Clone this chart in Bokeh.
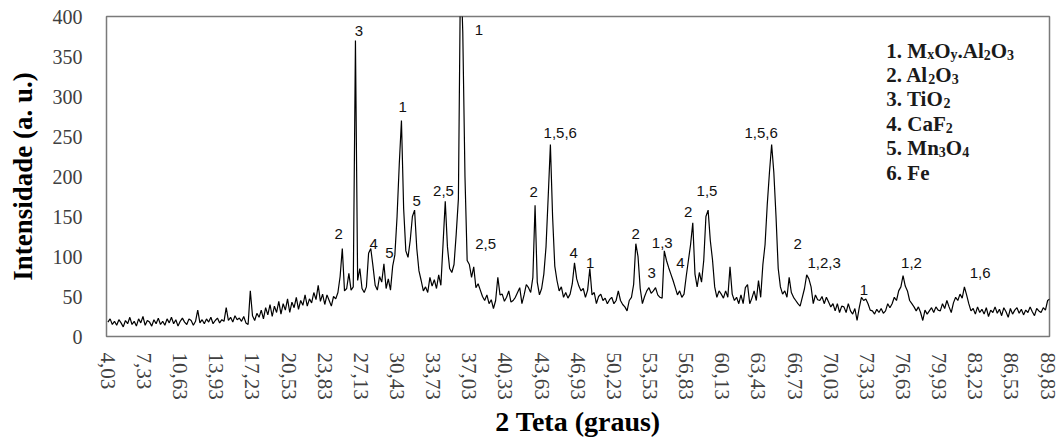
import numpy as np
from bokeh.plotting import figure
from bokeh.models import ColumnDataSource, FixedTicker, CustomJSTickFormatter, Range1d
from bokeh.core.properties import value
from bokeh.embed import file_html
from bokeh.resources import INLINE

# ---------------- data ----------------
start_2theta = 4.03
step_2theta = 0.2
intensity = [
    18, 22, 15, 19, 14,   21, 17, 12, 20, 16,   24, 15, 19, 13, 22,   17, 25, 14, 20, 18,   # 4-7
    13, 21, 16, 23, 15,   19, 14, 22, 17, 24,   16, 21, 13, 19, 23,   18, 15, 22, 20, 14,   # 8-11
    19, 33, 17, 21, 16,   22, 18, 24, 16, 20,   23, 17, 21, 19, 36,   20, 24, 18, 26, 21,   # 12-15
    23, 19, 25, 17, 15,   57, 26, 20, 29, 24,   33, 22, 36, 27, 40,   25, 38, 30, 44, 28,   # 16-19
    41, 33, 47, 30, 43,   36, 49, 34, 45, 39,   52, 38, 47, 42, 55,   46, 64, 44, 53, 40,   # 20-23
    52, 45, 38, 50, 47,   55, 75, 110, 57, 60,  79, 58, 62, 370, 70,  85, 60, 55, 62, 104,  # 24-27
    110, 88, 64, 58, 75,  68, 91, 60, 72, 58,   88, 102, 150, 215, 270, 160, 107, 99, 120, 150,  # 28-31
    158, 110, 82, 70, 57, 62, 55, 74, 63, 71,   60, 77, 64, 116, 169, 112, 85, 80, 90, 128,  # 32-35
    172, 470, 380, 200, 95, 90, 74, 87, 61, 66, 58, 50, 45, 52, 41,  46, 35, 45, 74, 52,   # 36-39
    53, 44, 49, 57, 43,   45, 49, 55, 61, 41,   52, 65, 61, 55, 74,   164, 68, 52, 60, 78,  # 40-43
    112, 175, 240, 150, 88, 70, 57, 62, 49, 55, 48, 53, 66, 92, 72,  63, 57, 60, 49, 58,   # 44-47
    85, 52, 55, 41, 50,   53, 45, 48, 41, 46,   49, 41, 45, 57, 45,   40, 37, 32, 45, 49,   # 48-51
    65, 116, 100, 60, 41, 50, 57, 61, 54, 57,   61, 52, 49, 48, 107,  95, 86, 78, 70, 61,   # 52-55
    52, 57, 49, 53, 75,   95, 115, 142, 78, 62, 80, 68, 95, 150, 158, 120, 96, 62, 49, 57,  # 56-59
    53, 48, 57, 49, 87,   53, 45, 49, 41, 52,   41, 61, 65, 41, 48,   57, 45, 70, 49, 90,   # 60-63
    115, 165, 205, 240, 205, 150, 85, 62, 53, 57, 49, 74, 55, 49, 45, 41, 38, 49, 60, 77,  # 64-67
    72, 62, 41, 52, 46,   45, 50, 41, 49, 43,   37, 41, 32, 41, 30,   38, 37, 30, 41, 32,   # 68-71
    28, 35, 20, 36, 49,   45, 47, 41, 33, 32,   28, 34, 30, 35, 29,   32, 41, 36, 41, 49,   # 72-75
    45, 57, 62, 76, 63,   57, 45, 41, 37, 32,   37, 30, 20, 33, 28,   32, 36, 30, 37, 33,   # 76-79
    32, 41, 35, 45, 37,   30, 42, 49, 45, 53,   48, 62, 52, 41, 32,   35, 28, 37, 30, 34,   # 80-83
    28, 36, 25, 33, 30,   37, 29, 34, 26, 36,   31, 24, 35, 28, 33,   36, 29, 34, 27, 33,   # 84-87
    30, 37, 31, 26, 35,   32, 30, 36, 33, 45,   47,                                         # 88-90
]
two_theta = [round(start_2theta + step_2theta * i, 2) for i in range(len(intensity))]

x_tick_values = [4.03, 7.33, 10.63, 13.93, 17.23, 20.53, 23.83, 27.13, 30.43, 33.73, 37.03,
                 40.33, 43.63, 46.93, 50.23, 53.53, 56.83, 60.13, 63.43, 66.73, 70.03, 73.33,
                 76.63, 79.93, 83.23, 86.53, 89.83]
x_tick_labels = ["4,03", "7,33", "10,63", "13,93", "17,23", "20,53", "23,83", "27,13", "30,43",
                 "33,73", "37,03", "40,33", "43,63", "46,93", "50,23", "53,53", "56,83", "60,13",
                 "63,43", "66,73", "70,03", "73,33", "76,63", "79,93", "83,23", "86,53", "89,83"]
y_tick_values = [0, 50, 100, 150, 200, 250, 300, 350, 400]

peak_labels = ["2", "3", "4", "5", "1", "5", "2,5", "1", "2,5", "2", "1,5,6", "4", "1", "2", "3",
               "1,3", "4", "2", "1,5", "1,5,6", "2", "1,2,3", "1", "1,2", "1,6"]
peak_label_x = [25.09, 26.94, 28.3, 29.73, 30.94, 32.21, 34.67, 37.91, 38.51, 42.91, 45.33, 46.55,
                48.06, 52.21, 53.67, 54.64, 56.3, 57.0, 58.73, 63.67, 67.0, 69.42, 73.06, 77.4, 83.67]
peak_label_y = [128, 382, 116, 105, 287, 170, 182, 383, 116, 181, 255, 105, 92, 128, 80, 117, 92,
                156, 182, 255, 116, 92, 58, 92, 80]

# legend rows: (text, is_subscript)
legend_rows = [
    [("1. M", False), ("x", True), ("O", False), ("y", True), (".Al", False), ("2", True), ("O", False), ("3", True)],
    [("2. Al", False), ("2", True), ("O", False), ("3", True)],
    [("3. TiO", False), ("2", True)],
    [("4. CaF", False), ("2", True)],
    [("5. Mn", False), ("3", True), ("O", False), ("4", True)],
    [("6. Fe", False)],
]

# ---------------- figure ----------------
p = figure(width=1061, height=441, output_backend="svg", toolbar_location=None,
           x_range=Range1d(3.9, 90.0), y_range=Range1d(0, 400),
           min_border_left=106, min_border_right=12, min_border_top=16, min_border_bottom=105)
p.background_fill_color = "white"
p.border_fill_color = "white"
p.xgrid.visible = False
p.ygrid.visible = False
p.outline_line_color = "#7a7a7a"
p.outline_line_width = 1.5

p.line(two_theta, intensity, line_color="black", line_width=1.2)

# axes
for ax in (p.xaxis[0], p.yaxis[0]):
    ax.axis_line_color = None
    ax.major_tick_line_color = None
    ax.minor_tick_line_color = None
    ax.major_label_text_font = "Liberation Serif"
    ax.major_label_text_color = "#404040"
    ax.axis_label_text_font = "Liberation Serif"
    ax.axis_label_text_font_style = "bold"
    ax.axis_label_text_color = "black"

p.xaxis.ticker = FixedTicker(ticks=x_tick_values)
p.xaxis.formatter = CustomJSTickFormatter(
    args=dict(vals=x_tick_values, labs=x_tick_labels),
    code="""
    let best = 0;
    for (let i = 0; i < vals.length; i++) {
        if (Math.abs(vals[i] - tick) < Math.abs(vals[best] - tick)) best = i;
    }
    return labs[best];
    """)
p.xaxis.major_label_orientation = "vertical"
p.xaxis.major_label_text_font_size = "21px"
p.xaxis.major_label_standoff = 10
p.xaxis.axis_label = "2 Teta (graus)"
p.xaxis.axis_label_text_font_size = "28px"
p.xaxis.axis_label_standoff = 3

p.yaxis.ticker = FixedTicker(ticks=y_tick_values)
p.yaxis.major_label_text_font_size = "20px"
p.yaxis.major_label_standoff = 18
p.yaxis.axis_label = "Intensidade (a. u.)"
p.yaxis.axis_label_text_font_size = "27px"
p.yaxis.axis_label_standoff = 12

# peak annotations
p.text(x=peak_label_x, y=peak_label_y, text=peak_labels,
       text_font=value("Liberation Sans"), text_font_size="15px",
       text_align="center", text_baseline="middle", text_color="#111111")

# legend built from pieces (main text + subscripts)
times_bold = {'1': 500, '2': 500, '3': 500, '4': 500, '5': 500, '6': 500, '.': 250, ' ': 250,
              'M': 944, 'x': 500, 'O': 778, 'y': 500, 'A': 722, 'l': 278, 'T': 667, 'i': 278,
              'C': 722, 'a': 500, 'F': 611, 'n': 556, 'e': 444}
main_size = 21
sub_size = 14
legend_left_x = 75.1
row_first_offset = 34
row_gap = 24.4

main_parts = dict(x=[], y=[], text=[], xo=[], yo=[])
sub_parts = dict(x=[], y=[], text=[], xo=[], yo=[])
for r, row in enumerate(legend_rows):
    xo = 0.0
    yo = row_first_offset + r * row_gap
    for txt, is_sub in row:
        size = sub_size if is_sub else main_size
        target = sub_parts if is_sub else main_parts
        target["x"].append(legend_left_x)
        target["y"].append(400)
        target["text"].append(txt)
        target["xo"].append(xo)
        target["yo"].append(yo + (4 if is_sub else 0))
        xo += sum(times_bold.get(c, 500) for c in txt) / 1000.0 * size

p.text(x="x", y="y", text="text", x_offset="xo", y_offset="yo",
       source=ColumnDataSource(main_parts),
       text_font=value("Liberation Serif"), text_font_style="bold",
       text_font_size=f"{main_size}px", text_align="left", text_baseline="alphabetic",
       text_color="#1a1a1a")
p.text(x="x", y="y", text="text", x_offset="xo", y_offset="yo",
       source=ColumnDataSource(sub_parts),
       text_font=value("Liberation Serif"), text_font_style="bold",
       text_font_size=f"{sub_size}px", text_align="left", text_baseline="alphabetic",
       text_color="#1a1a1a")

open("out.html", "w").write(file_html(p, INLINE))
